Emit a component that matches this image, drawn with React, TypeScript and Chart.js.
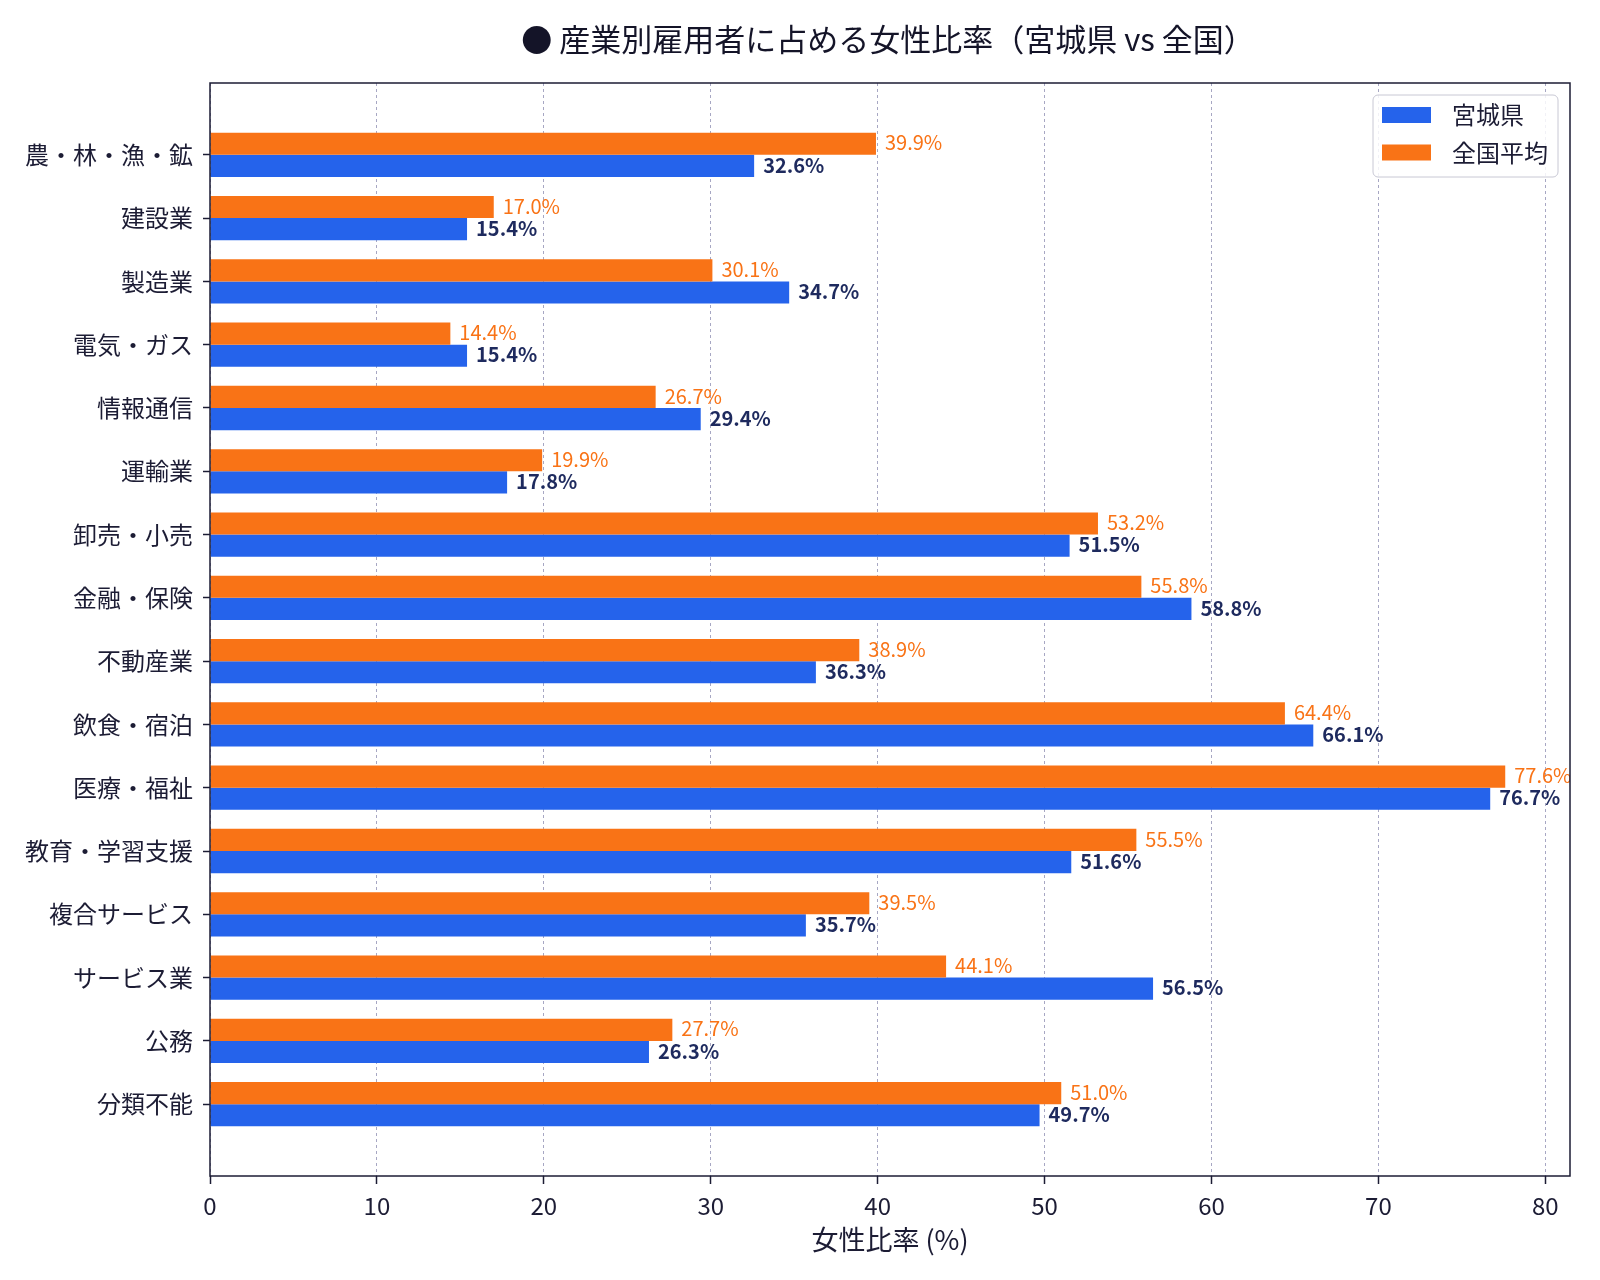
import React, { useRef, useEffect } from 'react';
import { Chart, registerables } from 'chart.js';

Chart.register(...registerables);

const categories = [
  '農・林・漁・鉱',
  '建設業',
  '製造業',
  '電気・ガス',
  '情報通信',
  '運輸業',
  '卸売・小売',
  '金融・保険',
  '不動産業',
  '飲食・宿泊',
  '医療・福祉',
  '教育・学習支援',
  '複合サービス',
  'サービス業',
  '公務',
  '分類不能',
];

const miyagiValues = [32.6, 15.4, 34.7, 15.4, 29.4, 17.8, 51.5, 58.8, 36.3, 66.1, 76.7, 51.6, 35.7, 56.5, 26.3, 49.7];
const nationalValues = [39.9, 17.0, 30.1, 14.4, 26.7, 19.9, 53.2, 55.8, 38.9, 64.4, 77.6, 55.5, 39.5, 44.1, 27.7, 51.0];

const xTickValues = [0, 10, 20, 30, 40, 50, 60, 70, 80];

const FONT = "'Noto Sans CJK JP', 'Noto Sans', sans-serif";
const NAVY = '#1c1c34';
const BLUE = '#2563eb';
const ORANGE = '#f97316';

// title, frame, value labels and legend box are drawn by hand
const decorPlugin = {
  id: 'decor',
  afterDatasetsDraw(chart: any) {
    const { ctx, chartArea } = chart;
    const { left, right, top, bottom } = chartArea;

    // value labels, clipped to the plot area
    ctx.save();
    ctx.beginPath();
    ctx.rect(left, top, right - left, bottom - top);
    ctx.clip();
    ctx.textBaseline = 'middle';
    ctx.textAlign = 'left';
    chart.data.datasets.forEach((ds: any, di: number) => {
      const meta = chart.getDatasetMeta(di);
      const isMiyagi = ds.label === '宮城県';
      ctx.font = isMiyagi ? `bold 20px ${FONT}` : `20px ${FONT}`;
      ctx.fillStyle = isMiyagi ? '#1e2a5e' : ORANGE;
      meta.data.forEach((bar: any, i: number) => {
        const v = ds.data[i].x;
        ctx.fillText(`${v.toFixed(1)}%`, bar.x + 9, bar.y - 1);
      });
    });
    ctx.restore();

    // frame
    ctx.save();
    ctx.strokeStyle = NAVY;
    ctx.lineWidth = 1.5;
    ctx.strokeRect(left, top, right - left, bottom - top);
    ctx.restore();

    // title
    ctx.save();
    ctx.font = `31px ${FONT}`;
    ctx.fillStyle = '#141428';
    ctx.textAlign = 'center';
    ctx.textBaseline = 'middle';
    ctx.fillText('● 産業別雇用者に占める女性比率（宮城県 vs 全国）', (left + right) / 2 - 2, 39);
    ctx.restore();

    // legend
    const bx = right - 197;
    const by = top + 12;
    const bw = 185;
    const bh = 82;
    ctx.save();
    ctx.beginPath();
    ctx.roundRect(bx, by, bw, bh, 5);
    ctx.fillStyle = 'rgba(255,255,255,0.85)';
    ctx.fill();
    ctx.strokeStyle = '#c8c8d4';
    ctx.lineWidth = 1;
    ctx.stroke();
    const items = [...chart.data.datasets].reverse();
    ctx.font = `24px ${FONT}`;
    ctx.textBaseline = 'middle';
    ctx.textAlign = 'left';
    items.forEach((ds: any, i: number) => {
      const cy = by + 20 + i * 37.5;
      ctx.fillStyle = ds.backgroundColor;
      ctx.fillRect(bx + 9, cy - 8, 49, 16);
      ctx.fillStyle = NAVY;
      ctx.fillText(ds.label, bx + 79, cy);
    });
    ctx.restore();
  },
};

const FemaleRatioChart: React.FC = () => {
  const chartRef = useRef<HTMLCanvasElement | null>(null);
  const chartInstance = useRef<Chart | null>(null);

  useEffect(() => {
    if (!chartRef.current) return;
    const ctx = chartRef.current.getContext('2d');
    if (!ctx) return;
    if (chartInstance.current) chartInstance.current.destroy();

    chartInstance.current = new Chart(ctx, {
      type: 'bar',
      data: {
        datasets: [
          {
            label: '全国平均',
            data: nationalValues.map((v, i) => ({ x: v, y: i })),
            backgroundColor: ORANGE,
            borderWidth: 0,
            categoryPercentage: 0.7,
            barPercentage: 1.0,
          },
          {
            label: '宮城県',
            data: miyagiValues.map((v, i) => ({ x: v, y: i })),
            backgroundColor: BLUE,
            borderWidth: 0,
            categoryPercentage: 0.7,
            barPercentage: 1.0,
          },
        ],
      },
      options: {
        indexAxis: 'y',
        animation: false,
        responsive: true,
        maintainAspectRatio: false,
        layout: { padding: { top: 83, right: 30, bottom: 0, left: 0 } },
        scales: {
          x: {
            type: 'linear',
            min: 0,
            max: 81.48,
            afterBuildTicks: (axis: any) => {
              axis.ticks = xTickValues.map(v => ({ value: v }));
            },
            afterFit: (axis: any) => {
              axis.height = 104;
            },
            grid: {
              color: 'rgba(130,130,170,0.7)',
              lineWidth: 1,
              drawTicks: true,
              tickLength: 8,
              tickColor: NAVY,
              tickWidth: 1.5,
            },
            border: { display: false, dash: [3, 3] },
            ticks: {
              padding: 7,
              color: NAVY,
              font: { family: FONT, size: 24 },
            },
            title: {
              display: true,
              text: '女性比率 (%)',
              color: NAVY,
              font: { family: FONT, size: 27 },
              padding: { top: 0, bottom: 24 },
            },
          },
          y: {
            type: 'linear',
            reverse: true,
            offset: false,
            min: -1.135,
            max: 16.135,
            afterBuildTicks: (axis: any) => {
              axis.ticks = categories.map((_, i) => ({ value: i }));
            },
            afterFit: (axis: any) => {
              axis.width = 210;
            },
            grid: {
              offset: false,
              drawOnChartArea: false,
              drawTicks: true,
              tickLength: 7,
              tickColor: NAVY,
              tickWidth: 1.5,
            },
            border: { display: false },
            ticks: {
              padding: 10,
              color: NAVY,
              font: { family: FONT, size: 24 },
              callback: (value: any) => categories[value as number] ?? '',
            },
          },
        },
        plugins: {
          legend: { display: false },
          title: { display: false },
          tooltip: { enabled: false },
        },
      },
      plugins: [decorPlugin],
    });

    return () => {
      if (chartInstance.current) {
        chartInstance.current.destroy();
        chartInstance.current = null;
      }
    };
  }, []);

  return (
    <div style={{ position: 'absolute', left: 0, top: 0, width: 1600, height: 1280, background: '#fff' }}>
      <canvas ref={chartRef}></canvas>
    </div>
  );
};

export default function App() {
  return <FemaleRatioChart />;
}
